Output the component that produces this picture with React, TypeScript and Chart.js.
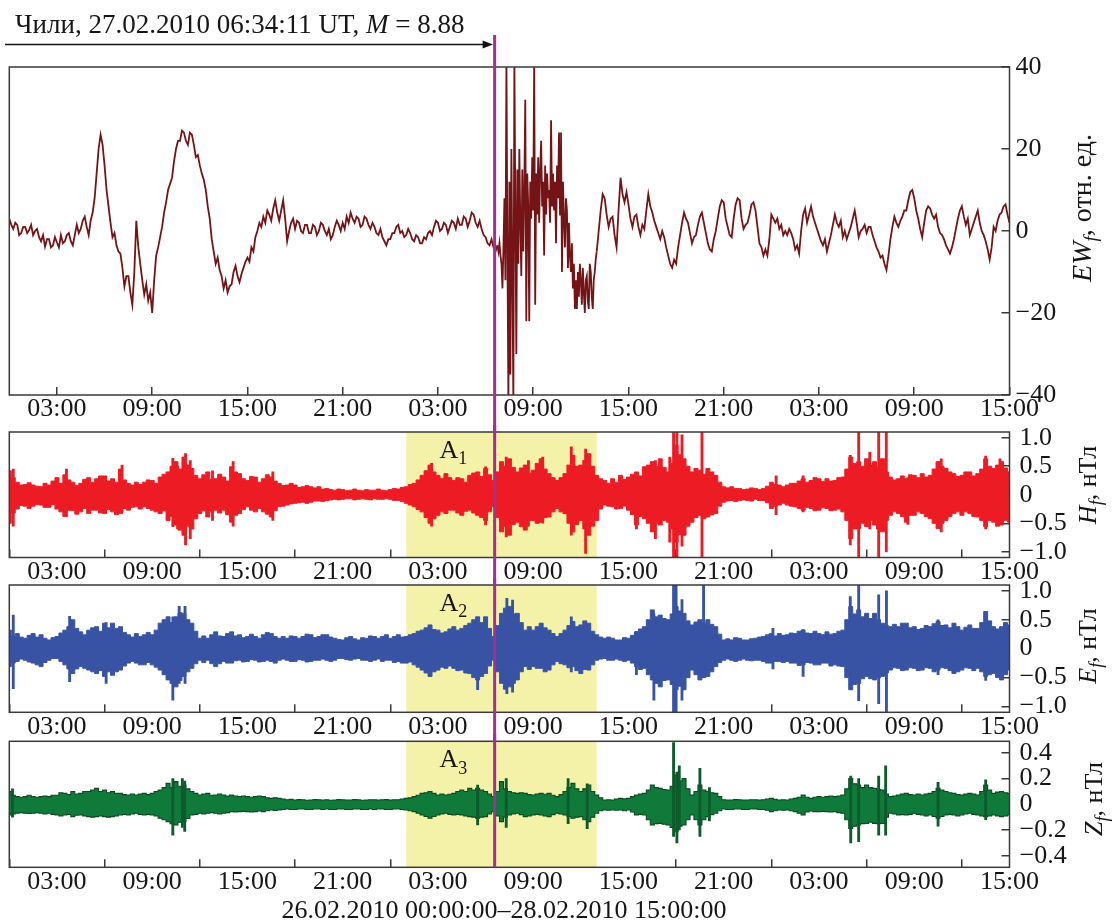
import React, { useEffect, useRef } from 'react';
import { Chart, registerables } from 'chart.js';

Chart.register(...registerables);

const FONT = '"Liberation Serif", "Times New Roman", Times, serif';

// ---------------- time axis (hours since 26.02.2010 00:00 UT) ----------------
const X_MIN = 0;
const X_MAX = 63;
const TICK_HOURS = [3, 9, 15, 21, 27, 33, 39, 45, 51, 57, 63];
const TICK_LABELS = ['03:00', '09:00', '15:00', '21:00', '03:00', '09:00', '15:00', '21:00', '03:00', '09:00', '15:00'];
const QUAKE_HOUR = 30.57; // 27.02.2010 06:34:11 UT
const WINDOW_START = 25;
const WINDOW_END = 37;
const WINDOW_LABEL_HOUR = 27.1;

const EW_TICKS = [-40, -20, 0, 20, 40];
const HE_TICKS = [-1, -0.5, 0, 0.5, 1];
const Z_TICKS = [-0.4, -0.2, 0, 0.2, 0.4];

// ---------------- EW_f (rel. units), every 0.125 h from 0 h ----------------
const EW_STEP = 0.125;
const EW_MAIN: (number | null)[] = [
  3, 1.5, 0.5, 2, 1.5, -1, -0.5, 1,
  1.0, -0.5, 0.2, 1.5, -1.0, 0, 0.5, -1.5,
  -2.5, -1, -3.8, -2, -2.0, -4, -3.5, -1.5,
  -2.8, -4, -1.0, -3, -2.5, -1, -0.5, -2.5,
  -3.5, -1, 1.5, -0.5, 0.5, 2.5, 3.5, 1,
  -1.0, 2.5, 4.5, 8, 14, 20, 23.5, 21,
  16, 10, 6, 2, -1.5, -0.5, -3.5, -5,
  -5.5, -9, -13.5, -11, -11.0, -15, -18.0, -10,
  2.5, -4, -8.0, -12, -15.5, -13, -17.0, -15,
  -20, -12, -6, -4, -1.5, 1, 4.5, 7,
  10, 11.5, 13, 17, 20, 22, 22, 24.5,
  24, 22, 21, 24, 23.5, 21, 18, 18.5,
  16, 14, 12.5, 10, 6, 3, -2, -5,
  -8, -6.5, -9.5, -11, -14, -12, -15, -13.5,
  -13, -10, -8.5, -11, -12.5, -10.5, -9, -7.5,
  -6.5, -7.5, -4, -5, -1.5, 0, 2, 1,
  3.5, 2, 5, 4, 2.5, 5.5, 7.5, 4.5,
  2.5, 5, 7.5, 3, -2.5, 0, 2, 3,
  0.5, 2.5, 2, 0, -0.5, 1.5, 1.5, -0.5,
  -0.5, 1.5, 1, -1, 0, 2, 1.5, 0,
  -1, 0.5, -2, -1, 1, 2.5, 1.5, 0,
  2, 0.5, 3.5, 2, 4.5, 3, 2, 3.5,
  3, 1, 1.5, 3.5, 3, 1.5, 0.5, 2,
  1, -0.5, -1, 0.5, -1.5, -2.5, -3.5, -2,
  -2, -0.5, -0.5, 1, 1.5, -0.5, 0, -1.5,
  -1, 0.5, -0.5, -2, -2.5, -1, -1.5, -3,
  -3, -1.5, -2, -0.5, 0, -1, 1, 2.5,
  2, 0, 0.5, 2, 1.5, -0.5, 1, 2.5,
  2, 0.5, 3, 1.5, 1.5, 3.5, 3, 1,
  2.5, 4.5, 4, 2, 1, 2.5, 0.5, -1,
  -1.5, -3, -3.5, -2, -4, -5, -3.5, null,
  null, null, null, null, null, null, null, null,
  null, null, null, null, null, null, null, null,
  null, null, null, null, null, null, null, null,
  null, null, null, null, null, null, null, null,
  null, null, null, null, null, null, null, null,
  null, null, null, null, null, null, null, null,
  -5, 0, 5, 9, 8, 4, 1, 3,
  3.5, -1, -4, 5, 13, 9, 7, 9.5,
  6.5, 3, 1, 3.5, 4, 1, -1, 1.5,
  0.5, 5, 9, 6, 4.5, 2.5, 1, -0.5,
  -2, 0, -1.5, -4, -6, -8, -9, -7,
  -8, -4, -1, 2, 4.5, 3, 2, -0.5,
  -3, -1.5, -1, 1.5, 3.5, 4.5, 2, -0.5,
  -3, -4.5, -5, -2, 0, 3, 6, 7.5,
  7, 3, 1, -1, -1.5, 3, 6.5, 8,
  7.5, 3, 0.5, 1.5, 2, 4, 6.5, 7,
  5, 1, -3, -4, -6, -4.5, -6, -2,
  4, 3, 2, 3, 0.5, 1.5, -1, 0,
  -1, 0.5, -0.5, -2, -4.5, -3.5, -5.5, 0,
  4, 5.5, 2, 4, 6, 3.5, 2, 0.5,
  -1, -2.5, -3.5, -2, -5, -3, -1, 1.5,
  4, 2, 1, 2.5, -1.5, 0, -2, -0.5,
  1, 3, 5, 2, -1.5, 0, 0.5, 1.5,
  -0.5, 1, 1, -1, -2.5, -4, -5, -6.5,
  -6, -8, -9.5, -6, -2, 1, 3.5, 2,
  1, 2.5, 3.5, 5, 5, 7.5, 9.5, 10,
  8, 5, 3, 0.5, -1.5, 2, 5, 6,
  5.5, 4, 3, 4, 1, -0.5, -1, -2,
  -3.5, -4.5, -5.5, -4, -2, 0.5, 3, 5,
  6, 3.5, 1.5, 3, -1, 0.5, 2, 3.5,
  5, 2, 0, -1, -2.5, -4.5, -7, -4,
  1, 0, 2.5, 4, 4.5, 6, 6.5, 4,
  2,
];
// EW_f burst after the earthquake, every 0.0625 h from 30.75 h
const EW_BURST_START = 30.75;
const EW_BURST_STEP = 0.0625;
const EW_BURST = [
  -3.5, -5, -3, -6, -8, -14, -4, 8, -12, 42, -5, -42, 12, -35, 20, -10,
  -42, 42, 5, -30, 15, -8, 20, 2, -11, 15, -5, 10, 32, -22, 14, 6,
  -22, 12, 3, 18, 5, 42, -18, 14, 4, 18, 2, 15, 22, 6, 12, -6,
  16, 4, 14, 8, 10, 2, 27, 6, 14, 5, 12, -3, 16, 8, 24, 4,
  24, -10, 12, 3, -4, 8, 5, -9, 2, -6, -10, -3, -14, -8, -19, -12,
  -19, -10, -16, -8, -12, -18, -9, -15, -20, -12, -11, -17, -19, -8, -10, -16,
  -19, -12, -10, -7, -5,
];

// ---------------- H_f, E_f, Z_f (nT) envelopes, every 0.25 h from 0 h ----------------
const BAND_STEP = 0.25;
const H_UP = [
  0.42, 0.3, 0.22, 0.17, 0.18, 0.21, 0.17, 0.15,
  0.14, 0.2, 0.17, 0.24, 0.3, 0.2, 0.35, 0.26,
  0.22, 0.16, 0.2, 0.27, 0.3, 0.22, 0.28, 0.33,
  0.33, 0.24, 0.28, 0.22, 0.45, 0.26, 0.2, 0.17,
  0.22, 0.18, 0.22, 0.26, 0.25, 0.2, 0.31, 0.36,
  0.4, 0.5, 0.58, 0.45, 0.66, 0.52, 0.46, 0.34,
  0.28, 0.35, 0.4, 0.27, 0.28, 0.36, 0.31, 0.24,
  0.49, 0.4, 0.37, 0.28, 0.25, 0.32, 0.31, 0.22,
  0.28, 0.35, 0.31, 0.24, 0.2, 0.16, 0.17, 0.2,
  0.17, 0.13, 0.14, 0.16, 0.14, 0.12, 0.14, 0.1,
  0.11, 0.09, 0.08, 0.1, 0.09, 0.07, 0.08, 0.1,
  0.08, 0.07, 0.09, 0.08, 0.08, 0.1, 0.08, 0.07,
  0.09, 0.11, 0.1, 0.13, 0.14, 0.18, 0.2, 0.26,
  0.34, 0.42, 0.52, 0.4, 0.34, 0.28, 0.37, 0.3,
  0.25, 0.3, 0.28, 0.22, 0.34, 0.38, 0.4, 0.32,
  0.46, 0.35, 0.25, 0.4, 0.58, 0.5, 0.63, 0.48,
  0.4, 0.47, 0.52, 0.38, 0.43, 0.55, 0.63, 0.45,
  0.37, 0.3, 0.25, 0.3, 0.37, 0.52, 0.69, 0.5,
  0.52, 0.6, 0.72, 0.5, 0.34, 0.28, 0.25, 0.2,
  0.28, 0.22, 0.34, 0.27, 0.31, 0.36, 0.4, 0.33,
  0.49, 0.52, 0.58, 0.5, 0.63, 0.48, 0.4, 0.55,
  0.87, 0.7, 0.63, 0.5, 0.4, 0.46, 0.43, 0.36,
  0.46, 0.4, 0.34, 0.22, 0.14, 0.12, 0.14, 0.11,
  0.11, 0.09, 0.1, 0.12, 0.11, 0.09, 0.11, 0.15,
  0.22, 0.18, 0.17, 0.14, 0.17, 0.2, 0.2, 0.24,
  0.28, 0.22, 0.25, 0.3, 0.28, 0.23, 0.28, 0.24,
  0.25, 0.3, 0.31, 0.45, 0.66, 0.55, 0.58, 0.5,
  0.63, 0.52, 0.58, 0.48, 0.63, 0.4, 0.31, 0.26,
  0.28, 0.33, 0.28, 0.35, 0.34, 0.3, 0.37, 0.31,
  0.34, 0.45, 0.58, 0.5, 0.46, 0.4, 0.37, 0.32,
  0.34, 0.4, 0.4, 0.33, 0.37, 0.45, 0.63, 0.5,
  0.46, 0.52, 0.58, 0.47, 0.4,
];
const H_LO = [
  -0.5, -0.32, -0.25, -0.19, -0.2, -0.24, -0.2, -0.17,
  -0.18, -0.22, -0.22, -0.17, -0.25, -0.3, -0.38, -0.27,
  -0.28, -0.34, -0.3, -0.24, -0.33, -0.27, -0.27, -0.32,
  -0.33, -0.26, -0.3, -0.35, -0.33, -0.24, -0.27, -0.22,
  -0.21, -0.25, -0.21, -0.24, -0.27, -0.3, -0.33, -0.28,
  -0.45, -0.38, -0.53, -0.62, -0.71, -0.55, -0.6, -0.42,
  -0.33, -0.28, -0.39, -0.3, -0.27, -0.32, -0.27, -0.35,
  -0.48, -0.36, -0.33, -0.26, -0.21, -0.27, -0.3, -0.24,
  -0.3, -0.34, -0.39, -0.28, -0.21, -0.2, -0.18, -0.16,
  -0.15, -0.14, -0.13, -0.15, -0.13, -0.11, -0.11, -0.12,
  -0.1, -0.09, -0.08, -0.09, -0.08, -0.07, -0.07, -0.09,
  -0.08, -0.07, -0.08, -0.09, -0.07, -0.08, -0.08, -0.07,
  -0.08, -0.1, -0.1, -0.12, -0.15, -0.18, -0.21, -0.26,
  -0.3, -0.4, -0.5, -0.42, -0.36, -0.3, -0.33, -0.27,
  -0.27, -0.32, -0.36, -0.29, -0.27, -0.32, -0.36, -0.4,
  -0.45, -0.3, -0.21, -0.4, -0.65, -0.55, -0.71, -0.52,
  -0.48, -0.56, -0.62, -0.45, -0.45, -0.5, -0.48, -0.4,
  -0.39, -0.3, -0.24, -0.3, -0.33, -0.5, -0.65, -0.52,
  -0.45, -0.6, -0.71, -0.55, -0.45, -0.25, -0.18, -0.2,
  -0.21, -0.25, -0.24, -0.2, -0.27, -0.35, -0.53, -0.38,
  -0.42, -0.5, -0.65, -0.5, -0.53, -0.45, -0.48, -0.6,
  -0.83, -0.7, -0.71, -0.55, -0.48, -0.4, -0.36, -0.42,
  -0.39, -0.35, -0.33, -0.2, -0.13, -0.11, -0.1, -0.12,
  -0.1, -0.09, -0.1, -0.11, -0.08, -0.1, -0.1, -0.14,
  -0.24, -0.2, -0.18, -0.15, -0.18, -0.2, -0.21, -0.24,
  -0.27, -0.22, -0.24, -0.28, -0.27, -0.23, -0.24, -0.28,
  -0.27, -0.25, -0.3, -0.45, -0.77, -0.6, -0.59, -0.5,
  -0.56, -0.45, -0.53, -0.6, -0.65, -0.45, -0.36, -0.3,
  -0.33, -0.38, -0.48, -0.36, -0.36, -0.3, -0.33, -0.38,
  -0.42, -0.5, -0.59, -0.5, -0.45, -0.38, -0.33, -0.3,
  -0.36, -0.3, -0.33, -0.38, -0.39, -0.45, -0.56, -0.45,
  -0.48, -0.55, -0.53, -0.45, -0.48,
];
const H_SPIKE_T = [0.25, 3.6, 7.1, 10.3, 10.6, 11.1, 11.4, 12.8, 14.1, 16.6, 26.6, 30.0, 31.3, 32.7, 33.6, 35.4, 36.3, 39.5, 40.7, 41.6, 41.84, 42.05, 42.37, 43.63, 48.3, 50.0, 52.97, 53.5, 54.2, 54.76, 55.24, 56.6, 58.7, 61.5, 62.4];
const H_SPIKE_LO = [-0.55, -0.38, -0.3, -0.56, -0.6, -0.88, -0.77, -0.45, -0.55, -0.45, -0.55, -0.53, -0.74, -0.55, -0.5, -0.71, -1.03, -0.6, -0.77, -0.83, -1.3, -1.3, -0.9, -1.3, -0.35, -0.3, -0.88, -1.3, -0.6, -1.3, -1.0, -0.52, -0.65, -0.6, -0.5];
const H_SPIKE_HI = [0.45, 0.45, 0.52, 0.64, 0.5, 0.72, 0.6, 0.42, 0.58, 0.4, 0.55, 0.49, 0.66, 0.6, 0.66, 0.84, 0.8, 0.3, 0.6, 0.66, 1.3, 1.3, 1.05, 1.3, 0.33, 0.33, 0.69, 1.3, 0.75, 1.3, 1.3, 0.3, 0.63, 0.68, 0.63];

const E_UP = [
  0.32, 0.22, 0.26, 0.2, 0.18, 0.23, 0.26, 0.2,
  0.24, 0.18, 0.15, 0.19, 0.21, 0.27, 0.32, 0.38,
  0.5, 0.35, 0.29, 0.24, 0.32, 0.36, 0.38, 0.3,
  0.44, 0.36, 0.44, 0.35, 0.38, 0.28, 0.24, 0.2,
  0.26, 0.21, 0.24, 0.28, 0.24, 0.32, 0.44, 0.5,
  0.55, 0.45, 0.55, 0.62, 0.61, 0.5, 0.44, 0.3,
  0.18, 0.22, 0.18, 0.24, 0.29, 0.22, 0.21, 0.26,
  0.29, 0.22, 0.24, 0.19, 0.21, 0.25, 0.21, 0.18,
  0.24, 0.28, 0.26, 0.21, 0.18, 0.21, 0.18, 0.22,
  0.21, 0.18, 0.21, 0.25, 0.24, 0.19, 0.21, 0.24,
  0.24, 0.2, 0.18, 0.16, 0.15, 0.19, 0.21, 0.17,
  0.15, 0.19, 0.18, 0.22, 0.21, 0.18, 0.21, 0.24,
  0.18, 0.21, 0.24, 0.2, 0.21, 0.24, 0.26, 0.3,
  0.32, 0.36, 0.41, 0.33, 0.32, 0.27, 0.29, 0.34,
  0.38, 0.32, 0.35, 0.4, 0.44, 0.5, 0.55, 0.45,
  0.55, 0.35, 0.21, 0.4, 0.61, 0.7, 0.73, 0.6,
  0.61, 0.45, 0.32, 0.38, 0.32, 0.38, 0.44, 0.36,
  0.32, 0.26, 0.21, 0.26, 0.32, 0.4, 0.47, 0.38,
  0.41, 0.48, 0.44, 0.3, 0.24, 0.2, 0.18, 0.2,
  0.18, 0.15, 0.15, 0.19, 0.18, 0.23, 0.29, 0.34,
  0.38, 0.5, 0.67, 0.55, 0.58, 0.52, 0.5, 0.6,
  0.73, 0.65, 0.61, 0.48, 0.41, 0.46, 0.5, 0.44,
  0.5, 0.42, 0.38, 0.25, 0.15, 0.17, 0.15, 0.19,
  0.18, 0.15, 0.15, 0.17, 0.18, 0.2, 0.21, 0.24,
  0.26, 0.22, 0.26, 0.23, 0.24, 0.27, 0.26, 0.3,
  0.32, 0.27, 0.26, 0.3, 0.26, 0.24, 0.29, 0.25,
  0.26, 0.3, 0.32, 0.5, 0.73, 0.6, 0.67, 0.55,
  0.61, 0.52, 0.61, 0.5, 0.44, 0.4, 0.38, 0.42,
  0.38, 0.44, 0.44, 0.36, 0.38, 0.33, 0.35, 0.4,
  0.38, 0.43, 0.47, 0.4, 0.41, 0.36, 0.44, 0.38,
  0.32, 0.37, 0.41, 0.35, 0.35, 0.45, 0.64, 0.48,
  0.38, 0.34, 0.38, 0.45, 0.41,
];
const E_LO = [
  -0.31, -0.25, -0.22, -0.18, -0.2, -0.23, -0.25, -0.28,
  -0.31, -0.24, -0.2, -0.17, -0.17, -0.22, -0.28, -0.35,
  -0.43, -0.35, -0.31, -0.34, -0.37, -0.4, -0.43, -0.38,
  -0.48, -0.4, -0.46, -0.4, -0.37, -0.3, -0.25, -0.22,
  -0.25, -0.28, -0.28, -0.24, -0.28, -0.32, -0.37, -0.45,
  -0.54, -0.6, -0.66, -0.55, -0.48, -0.4, -0.34, -0.26,
  -0.2, -0.24, -0.2, -0.26, -0.31, -0.26, -0.22, -0.25,
  -0.25, -0.21, -0.2, -0.23, -0.22, -0.19, -0.2, -0.23,
  -0.22, -0.2, -0.22, -0.25, -0.2, -0.18, -0.2, -0.22,
  -0.22, -0.19, -0.2, -0.23, -0.22, -0.2, -0.2, -0.18,
  -0.2, -0.22, -0.2, -0.17, -0.17, -0.19, -0.2, -0.18,
  -0.17, -0.2, -0.2, -0.22, -0.2, -0.18, -0.22, -0.2,
  -0.2, -0.24, -0.22, -0.25, -0.25, -0.23, -0.28, -0.32,
  -0.37, -0.42, -0.48, -0.4, -0.37, -0.32, -0.34, -0.3,
  -0.34, -0.38, -0.37, -0.42, -0.43, -0.5, -0.54, -0.48,
  -0.43, -0.3, -0.2, -0.4, -0.6, -0.7, -0.66, -0.6,
  -0.54, -0.4, -0.31, -0.36, -0.31, -0.34, -0.34, -0.4,
  -0.37, -0.28, -0.22, -0.26, -0.28, -0.33, -0.31, -0.38,
  -0.43, -0.36, -0.37, -0.28, -0.2, -0.18, -0.17, -0.2,
  -0.2, -0.18, -0.2, -0.22, -0.2, -0.25, -0.31, -0.36,
  -0.34, -0.45, -0.54, -0.6, -0.66, -0.55, -0.54, -0.62,
  -0.71, -0.65, -0.71, -0.5, -0.37, -0.45, -0.54, -0.5,
  -0.48, -0.4, -0.31, -0.24, -0.2, -0.18, -0.2, -0.22,
  -0.2, -0.18, -0.2, -0.21, -0.2, -0.2, -0.22, -0.25,
  -0.25, -0.22, -0.22, -0.24, -0.22, -0.25, -0.25, -0.29,
  -0.28, -0.24, -0.25, -0.28, -0.28, -0.25, -0.25, -0.3,
  -0.28, -0.3, -0.31, -0.5, -0.71, -0.62, -0.6, -0.52,
  -0.48, -0.52, -0.54, -0.5, -0.48, -0.42, -0.37, -0.33,
  -0.34, -0.38, -0.37, -0.33, -0.34, -0.38, -0.37, -0.33,
  -0.34, -0.4, -0.37, -0.33, -0.34, -0.38, -0.43, -0.4,
  -0.37, -0.33, -0.34, -0.38, -0.34, -0.4, -0.48, -0.45,
  -0.43, -0.5, -0.54, -0.45, -0.37,
];
const E_SPIKE_T = [0.25, 3.8, 6.1, 10.3, 10.7, 11.07, 29.5, 31.34, 31.7, 35.4, 39.5, 40.6, 41.84, 42.0, 42.37, 43.73, 48.1, 50.0, 52.97, 53.5, 54.76, 55.25, 58.5, 61.5];
const E_SPIKE_LO = [-0.69, -0.57, -0.6, -0.89, -0.6, -0.6, -0.71, -0.78, -0.75, -0.4, -0.45, -0.89, -1.3, -1.3, -0.89, -0.5, -0.35, -0.48, -0.7, -0.9, -0.95, -1.3, -0.45, -0.55];
const E_SPIKE_HI = [0.58, 0.56, 0.45, 0.55, 0.73, 0.73, 0.45, 0.87, 0.84, 0.55, 0.3, 0.6, 1.3, 1.3, 0.85, 1.3, 0.35, 0.33, 0.9, 1.3, 0.93, 1.0, 0.5, 0.64];

const Z_UP = [
  0.1, 0.07, 0.06, 0.055, 0.06, 0.07, 0.06, 0.055,
  0.06, 0.065, 0.06, 0.07, 0.07, 0.09, 0.085, 0.075,
  0.1, 0.08, 0.085, 0.1, 0.1, 0.11, 0.124, 0.1,
  0.11, 0.09, 0.1, 0.085, 0.085, 0.075, 0.072, 0.08,
  0.072, 0.08, 0.085, 0.075, 0.085, 0.1, 0.11, 0.13,
  0.163, 0.13, 0.176, 0.14, 0.15, 0.12, 0.1, 0.085,
  0.072, 0.08, 0.085, 0.07, 0.072, 0.08, 0.072, 0.065,
  0.072, 0.065, 0.06, 0.065, 0.06, 0.055, 0.06, 0.065,
  0.06, 0.05, 0.046, 0.05, 0.046, 0.04, 0.035, 0.038,
  0.033, 0.036, 0.035, 0.032, 0.033, 0.036, 0.035, 0.033,
  0.035, 0.032, 0.033, 0.036, 0.035, 0.033, 0.033, 0.036,
  0.035, 0.032, 0.033, 0.035, 0.035, 0.033, 0.035, 0.036,
  0.033, 0.035, 0.035, 0.04, 0.046, 0.05, 0.06, 0.07,
  0.085, 0.09, 0.1, 0.085, 0.072, 0.08, 0.072, 0.078,
  0.085, 0.1, 0.11, 0.1, 0.124, 0.11, 0.124, 0.11,
  0.1, 0.08, 0.06, 0.1, 0.176, 0.12, 0.1, 0.09,
  0.085, 0.09, 0.085, 0.075, 0.072, 0.08, 0.085, 0.078,
  0.085, 0.07, 0.06, 0.075, 0.1, 0.13, 0.163, 0.12,
  0.1, 0.12, 0.15, 0.1, 0.072, 0.05, 0.033, 0.035,
  0.033, 0.04, 0.046, 0.042, 0.046, 0.06, 0.072, 0.08,
  0.085, 0.11, 0.15, 0.13, 0.124, 0.115, 0.11, 0.14,
  0.228, 0.18, 0.2, 0.12, 0.072, 0.1, 0.15, 0.11,
  0.1, 0.09, 0.085, 0.06, 0.035, 0.033, 0.033, 0.036,
  0.035, 0.033, 0.033, 0.035, 0.035, 0.033, 0.035, 0.04,
  0.046, 0.038, 0.033, 0.035, 0.033, 0.04, 0.046, 0.055,
  0.072, 0.055, 0.046, 0.055, 0.06, 0.055, 0.06, 0.065,
  0.06, 0.065, 0.072, 0.12, 0.2, 0.16, 0.15, 0.13,
  0.15, 0.13, 0.124, 0.115, 0.11, 0.08, 0.06, 0.065,
  0.072, 0.08, 0.085, 0.075, 0.072, 0.08, 0.072, 0.08,
  0.085, 0.1, 0.124, 0.11, 0.1, 0.09, 0.085, 0.075,
  0.072, 0.08, 0.085, 0.08, 0.072, 0.1, 0.15, 0.11,
  0.085, 0.095, 0.1, 0.09, 0.085,
];
const Z_LO = [
  -0.083, -0.075, -0.07, -0.065, -0.07, -0.072, -0.07, -0.065,
  -0.07, -0.075, -0.07, -0.078, -0.083, -0.09, -0.083, -0.078,
  -0.096, -0.085, -0.083, -0.09, -0.096, -0.1, -0.096, -0.09,
  -0.096, -0.1, -0.096, -0.09, -0.083, -0.078, -0.083, -0.075,
  -0.07, -0.078, -0.083, -0.078, -0.083, -0.09, -0.109, -0.12,
  -0.135, -0.15, -0.161, -0.14, -0.135, -0.11, -0.083, -0.078,
  -0.07, -0.075, -0.07, -0.065, -0.07, -0.075, -0.07, -0.065,
  -0.057, -0.06, -0.057, -0.055, -0.057, -0.06, -0.057, -0.052,
  -0.057, -0.05, -0.044, -0.048, -0.044, -0.04, -0.037, -0.04,
  -0.04, -0.037, -0.037, -0.04, -0.04, -0.037, -0.037, -0.04,
  -0.037, -0.04, -0.04, -0.037, -0.037, -0.04, -0.04, -0.037,
  -0.037, -0.04, -0.04, -0.037, -0.04, -0.037, -0.037, -0.04,
  -0.04, -0.037, -0.037, -0.04, -0.044, -0.05, -0.057, -0.07,
  -0.083, -0.095, -0.109, -0.095, -0.083, -0.075, -0.07, -0.078,
  -0.083, -0.078, -0.083, -0.09, -0.096, -0.1, -0.109, -0.1,
  -0.096, -0.075, -0.057, -0.09, -0.135, -0.1, -0.083, -0.075,
  -0.07, -0.08, -0.096, -0.09, -0.083, -0.078, -0.083, -0.09,
  -0.096, -0.08, -0.07, -0.075, -0.083, -0.095, -0.109, -0.1,
  -0.096, -0.12, -0.135, -0.1, -0.07, -0.05, -0.044, -0.046,
  -0.044, -0.046, -0.044, -0.05, -0.044, -0.06, -0.083, -0.078,
  -0.083, -0.12, -0.161, -0.15, -0.148, -0.155, -0.161, -0.18,
  -0.213, -0.17, -0.161, -0.12, -0.083, -0.12, -0.161, -0.12,
  -0.096, -0.08, -0.07, -0.05, -0.037, -0.04, -0.04, -0.037,
  -0.037, -0.04, -0.04, -0.037, -0.037, -0.04, -0.04, -0.046,
  -0.057, -0.05, -0.044, -0.046, -0.044, -0.05, -0.057, -0.07,
  -0.083, -0.06, -0.052, -0.057, -0.057, -0.055, -0.057, -0.06,
  -0.057, -0.065, -0.07, -0.12, -0.187, -0.17, -0.161, -0.15,
  -0.148, -0.14, -0.148, -0.15, -0.148, -0.1, -0.07, -0.075,
  -0.083, -0.08, -0.083, -0.078, -0.07, -0.078, -0.083, -0.09,
  -0.083, -0.095, -0.109, -0.095, -0.083, -0.078, -0.083, -0.09,
  -0.083, -0.075, -0.07, -0.078, -0.083, -0.09, -0.096, -0.09,
  -0.083, -0.09, -0.096, -0.09, -0.083,
];
const Z_SPIKE_T = [0.2, 10.3, 10.9, 11.05, 29.5, 31.3, 35.2, 36.4, 41.84, 42.05, 42.2, 43.5, 44.1, 53.0, 53.5, 54.76, 55.2, 58.5, 61.5];
const Z_SPIKE_LO = [-0.1, -0.24, -0.18, -0.21, -0.16, -0.18, -0.15, -0.19, -0.25, -0.3, -0.2, -0.25, -0.13, -0.3, -0.29, -0.24, -0.24, -0.17, -0.12];
const Z_SPIKE_HI = [0.12, 0.2, 0.2, 0.18, 0.15, 0.2, 0.2, 0.16, 0.48, 0.25, 0.3, 0.28, 0.13, 0.22, 0.2, 0.22, 0.3, 0.17, 0.19];

// ---------------- text ----------------
const TITLE_PARTS = [{ t: 'Чили, 27.02.2010 06:34:11 UT, ' }, { t: 'M', italic: true }, { t: ' = 8.88' }];
const RANGE_TEXT = '26.02.2010 00:00:00\u201328.02.2010 15:00:00';
const EW_LABEL = [{ t: 'EW', italic: true }, { t: 'f', italic: true, sub: true }, { t: ', отн. ед.' }];
const H_LABEL = [{ t: 'H', italic: true }, { t: 'f', italic: true, sub: true }, { t: ', нТл' }];
const E_LABEL = [{ t: 'E', italic: true }, { t: 'f', italic: true, sub: true }, { t: ', нТл' }];
const Z_LABEL = [{ t: 'Z', italic: true }, { t: 'f', italic: true, sub: true }, { t: ', нТл' }];

// ---------------- styles / layout ----------------
const W = 1113;
const PAGE_H = 921;
const AREA_LEFT = 9.3;
const AREA_RIGHT = 1009.5;
const TEXT = '#161616';
const AXIS = '#3a3a3a';
const EW_COLOR = '#741416';
const RED = '#ed1c24';
const BLUE = '#3953a4';
const GREEN = '#0f7a3a';
const GREEN_EDGE = '#0c4a24';
const GREEN_SPIKE = '#0d5a2b';
const YELLOW = '#f4f2a8';
const PURPLE = '#9d3293';
const FS = 26;

const GEOMS = [
  { top: 0, height: 432, areaTop: 67, areaBottom: 395, qFrom: 35, qTo: 432, yPad: 14, labelX: 1081, labelY: 208, labelSize: 28, sub: '', title: true, range: false },
  { top: 425, height: 160, areaTop: 432, areaBottom: 557.5, qFrom: 425, qTo: 585, yPad: 18, labelX: 1087, labelY: 485, labelSize: 26, sub: '1', title: false, range: false },
  { top: 578, height: 163, areaTop: 585, areaBottom: 712.3, qFrom: 578, qTo: 741, yPad: 18, labelX: 1087, labelY: 646, labelSize: 26, sub: '2', title: false, range: false },
  { top: 734, height: 187, areaTop: 741.3, areaBottom: 867.3, qFrom: 734, qTo: 867.3, yPad: 18, labelX: 1093, labelY: 799, labelSize: 26, sub: '3', title: false, range: true },
];

const series = (vals: (number | null)[], start: number, step: number) => vals.map((v, i) => ({ x: start + i * step, y: v }));
const spikes = (t: number[], lo: number[], hi: number[]) => t.map((x, i) => ({ x, y: [lo[i], hi[i]] }));
const fmt = (v: number, d: number) => (v === 0 ? '0' : (v < 0 ? '\u2212' : '') + Math.abs(v).toFixed(d));

type Part = { t: string; italic?: boolean; sub?: boolean };
const partFont = (p: Part, size: number) => `${p.italic ? 'italic ' : ''}${p.sub ? Math.round(size * 0.68) : size}px ${FONT}`;

function drawRich(ctx: CanvasRenderingContext2D, parts: Part[], x: number, y: number, align: 'left' | 'center', size: number) {
  ctx.textAlign = 'left';
  ctx.textBaseline = 'alphabetic';
  const widths = parts.map((p) => {
    ctx.font = partFont(p, size);
    return ctx.measureText(p.t).width;
  });
  const total = widths.reduce((a, b) => a + b, 0);
  let cx = align === 'center' ? x - total / 2 : x;
  parts.forEach((p, i) => {
    ctx.font = partFont(p, size);
    ctx.fillText(p.t, cx, y + (p.sub ? size * 0.24 : 0));
    cx += widths[i];
  });
}

function bandSets(up: number[], lo: number[], t: number[], sLo: number[], sHi: number[], color: string, edge: string, edgeW: number, spikeColor: string) {
  return [
    { type: 'line', data: series(up, 0, BAND_STEP), borderColor: edge, backgroundColor: color, borderWidth: edgeW, pointRadius: 0, stepped: 'middle', fill: false, order: 2 },
    { type: 'line', data: series(lo, 0, BAND_STEP), borderColor: edge, backgroundColor: color, borderWidth: edgeW, pointRadius: 0, stepped: 'middle', fill: '-1', order: 2 },
    { type: 'bar', data: spikes(t, sLo, sHi), backgroundColor: spikeColor, borderWidth: 0, barThickness: 2.2, grouped: false, order: 1 },
  ];
}

function decor(g: any, label: Part[]) {
  return {
    id: 'decor',
    beforeDatasetsDraw(chart: any) {
      if (!g.sub) return;
      const { ctx, chartArea: a, scales } = chart;
      const x0 = scales.x.getPixelForValue(WINDOW_START);
      const x1 = scales.x.getPixelForValue(WINDOW_END);
      ctx.save();
      ctx.fillStyle = YELLOW;
      ctx.fillRect(x0, a.top, x1 - x0, a.bottom - a.top);
      ctx.restore();
    },
    afterDraw(chart: any) {
      const { ctx, chartArea: a, scales } = chart;
      ctx.save();
      ctx.strokeStyle = AXIS;
      ctx.lineWidth = 1.5;
      ctx.strokeRect(a.left, a.top, a.right - a.left, a.bottom - a.top);
      ctx.fillStyle = TEXT;
      if (g.sub) {
        const lx = scales.x.getPixelForValue(WINDOW_LABEL_HOUR);
        drawRich(ctx, [{ t: 'A' }, { t: g.sub, sub: true }], lx, a.top + 26, 'left', FS);
      }
      ctx.save();
      ctx.translate(g.labelX, g.labelY - g.top);
      ctx.rotate(-Math.PI / 2);
      drawRich(ctx, label, 0, g.labelSize * 0.34, 'center', g.labelSize);
      ctx.restore();
      const qx = scales.x.getPixelForValue(QUAKE_HOUR);
      if (g.title) {
        drawRich(ctx, TITLE_PARTS, 15, 33, 'left', 27);
        ctx.strokeStyle = '#111';
        ctx.fillStyle = '#111';
        ctx.lineWidth = 1.4;
        ctx.beginPath();
        ctx.moveTo(5, 44.5);
        ctx.lineTo(qx - 8, 44.5);
        ctx.stroke();
        ctx.beginPath();
        ctx.moveTo(qx - 1.5, 44.5);
        ctx.lineTo(qx - 12, 40.5);
        ctx.lineTo(qx - 12, 48.5);
        ctx.closePath();
        ctx.fill();
      }
      if (g.range) {
        ctx.fillStyle = TEXT;
        drawRich(ctx, [{ t: RANGE_TEXT }], 504, 918 - g.top, 'center', FS);
      }
      ctx.strokeStyle = PURPLE;
      ctx.lineWidth = 3;
      ctx.beginPath();
      ctx.moveTo(qx, g.qFrom - g.top);
      ctx.lineTo(qx, g.qTo - g.top);
      ctx.stroke();
      ctx.restore();
    },
  };
}

const zeroPad = (s: any) => {
  s.paddingLeft = 0;
  s.paddingRight = 0;
  s.paddingTop = 0;
  s.paddingBottom = 0;
};

function makeChart(canvas: HTMLCanvasElement, g: any, datasets: any[], yMin: number, yMax: number, yTicks: number[], dec: number, label: Part[]) {
  return new Chart(canvas, {
    type: 'line',
    data: { datasets } as any,
    options: {
      animation: false,
      responsive: false,
      events: [],
      layout: { autoPadding: false, padding: { top: g.areaTop - g.top, left: AREA_LEFT, right: 0, bottom: 0 } },
      plugins: { legend: { display: false }, tooltip: { enabled: false } },
      scales: {
        x: {
          type: 'linear',
          min: X_MIN,
          max: X_MAX,
          offset: false,
          z: 1,
          afterBuildTicks: (s: any) => {
            s.ticks = TICK_HOURS.map((v) => ({ value: v }));
          },
          afterFit: (s: any) => {
            s.height = g.top + g.height - g.areaBottom;
            zeroPad(s);
          },
          ticks: {
            autoSkip: false,
            maxRotation: 0,
            padding: 7,
            color: TEXT,
            font: { family: FONT, size: FS },
            callback: (_v: any, i: number) => TICK_LABELS[i],
          },
          grid: { drawOnChartArea: false, drawTicks: true, tickLength: -8, color: AXIS, lineWidth: 1.5 },
          border: { display: false },
        },
        y: {
          type: 'linear',
          position: 'right',
          min: yMin,
          max: yMax,
          z: 1,
          afterBuildTicks: (s: any) => {
            s.ticks = yTicks.map((v) => ({ value: v }));
          },
          afterFit: (s: any) => {
            s.width = W - AREA_RIGHT;
            zeroPad(s);
          },
          ticks: {
            autoSkip: false,
            crossAlign: 'near',
            padding: g.yPad,
            color: TEXT,
            font: { family: FONT, size: FS },
            callback: (v: any) => fmt(Number(v), dec),
          },
          grid: { drawOnChartArea: false, drawTicks: true, tickLength: -8, color: AXIS, lineWidth: 1.5 },
          border: { display: false },
        },
      },
    } as any,
    plugins: [decor(g, label)],
  });
}

export default function App() {
  const r0 = useRef<HTMLCanvasElement>(null);
  const r1 = useRef<HTMLCanvasElement>(null);
  const r2 = useRef<HTMLCanvasElement>(null);
  const r3 = useRef<HTMLCanvasElement>(null);
  const refs = [r0, r1, r2, r3];

  useEffect(() => {
    const ewSets = [
      { type: 'line', data: series(EW_MAIN, 0, EW_STEP), borderColor: EW_COLOR, borderWidth: 1.8, pointRadius: 0, spanGaps: false, tension: 0 },
      { type: 'line', data: series(EW_BURST, EW_BURST_START, EW_BURST_STEP), borderColor: EW_COLOR, borderWidth: 1.8, pointRadius: 0, tension: 0 },
    ];
    const charts = [
      makeChart(r0.current!, GEOMS[0], ewSets, -40, 40, EW_TICKS, 0, EW_LABEL),
      makeChart(r1.current!, GEOMS[1], bandSets(H_UP, H_LO, H_SPIKE_T, H_SPIKE_LO, H_SPIKE_HI, RED, RED, 1, RED), -1.1, 1.1, HE_TICKS, 1, H_LABEL),
      makeChart(r2.current!, GEOMS[2], bandSets(E_UP, E_LO, E_SPIKE_T, E_SPIKE_LO, E_SPIKE_HI, BLUE, BLUE, 1, BLUE), -1.1, 1.1, HE_TICKS, 1, E_LABEL),
      makeChart(r3.current!, GEOMS[3], bandSets(Z_UP, Z_LO, Z_SPIKE_T, Z_SPIKE_LO, Z_SPIKE_HI, GREEN, GREEN_EDGE, 1.1, GREEN_SPIKE), -0.49, 0.49, Z_TICKS, 1, Z_LABEL),
    ];
    return () => charts.forEach((c) => c.destroy());
  }, []);

  return (
    <div style={{ position: 'absolute', left: 0, top: 0, width: W, height: PAGE_H, background: '#ffffff', overflow: 'hidden' }}>
      {GEOMS.map((g, i) => (
        <canvas
          key={i}
          ref={refs[i]}
          width={W}
          height={g.height}
          style={{ position: 'absolute', left: 0, top: g.top, width: W, height: g.height }}
        />
      ))}
    </div>
  );
}
